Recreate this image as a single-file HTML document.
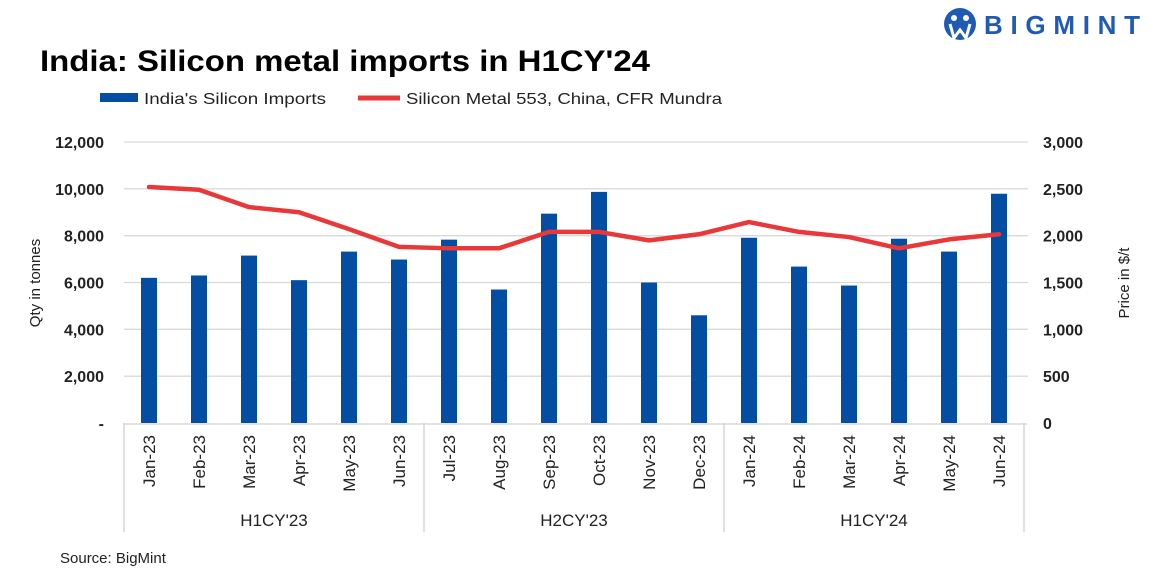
<!DOCTYPE html>
<html><head><meta charset="utf-8"><style>
body{margin:0;background:#fff;width:1153px;height:580px;overflow:hidden;font-family:"Liberation Sans",sans-serif}
svg text{font-family:"Liberation Sans",sans-serif}
</style></head><body>
<svg id="chart" width="1153" height="580">
<g>
<circle cx="960" cy="24" r="16" fill="#1f5bb5"/>
<circle cx="954" cy="18" r="3" fill="#fff"/><circle cx="966" cy="18" r="3" fill="#fff"/>
<path d="M950 24 L954 38 L960 30 L966 38 L970 24" stroke="#fff" stroke-width="3" fill="none"/>
<text x="984" y="34" font-size="26" font-weight="bold" fill="#1f5bb5" textLength="156" lengthAdjust="spacing">BIGMINT</text>
</g>
<text x="40" y="71" font-size="30" font-weight="bold" fill="#000" textLength="610" lengthAdjust="spacingAndGlyphs">India: Silicon metal imports in H1CY'24</text>
<g>
<rect x="100" y="93" width="38" height="9" fill="#034ea2"/>
<text x="144" y="104" font-size="16" fill="#222" textLength="182" lengthAdjust="spacingAndGlyphs">India's Silicon Imports</text>
<line x1="358" y1="98" x2="400" y2="98" stroke="#e8383a" stroke-width="5"/>
<text x="406" y="104" font-size="16" fill="#222" textLength="316" lengthAdjust="spacingAndGlyphs">Silicon Metal 553, China, CFR Mundra</text>
</g>
<g id="grid"></g><g id="bars"></g><g id="line"></g><g id="axes"></g>
<text transform="translate(40,283) rotate(-90)" text-anchor="middle" font-size="15" fill="#222">Qty in tonnes</text>
<text transform="translate(1129,283) rotate(-90)" text-anchor="middle" font-size="15" fill="#222">Price in $/t</text>
<text x="60" y="563" font-size="15" fill="#222">Source: BigMint</text>
</svg>
<script>
const categories=["Jan-23","Feb-23","Mar-23","Apr-23","May-23","Jun-23","Jul-23","Aug-23","Sep-23","Oct-23","Nov-23","Dec-23","Jan-24","Feb-24","Mar-24","Apr-24","May-24","Jun-24"];
const imports=[6200,6300,7150,6100,7320,6980,7830,5700,8940,9870,6000,4600,7910,6680,5870,7870,7320,9790];
const prices=[2520,2490,2305,2250,2070,1880,1865,1865,2040,2040,1950,2015,2145,2040,1985,1865,1960,2015];
const leftTicks=[0,2000,4000,6000,8000,10000,12000];
const leftTickLabels=["-","2,000","4,000","6,000","8,000","10,000","12,000"];
const rightTicks=[0,500,1000,1500,2000,2500,3000];
const rightTickLabels=["0","500","1,000","1,500","2,000","2,500","3,000"];
const groups=["H1CY'23","H2CY'23","H1CY'24"];
const groupSize=[6,6,6];
const NS="http://www.w3.org/2000/svg";
const X0=124,X1=1024,Y0=423,Y1=142;
const step=(X1-X0)/categories.length;
const xc=i=>X0+step*(i+0.5);
const yL=v=>Y0-(v/12000)*(Y0-Y1);
const yR=v=>Y0-(v/3000)*(Y0-Y1);
function mk(tag,attrs,parent,txt){const e=document.createElementNS(NS,tag);for(const k in attrs)e.setAttribute(k,attrs[k]);if(txt!==undefined)e.textContent=txt;document.getElementById(parent).appendChild(e);return e;}
leftTicks.forEach((t,i)=>{
 if(t>0){const g=mk('line',{x1:X0,x2:X1+4,y1:yL(t),y2:yL(t),stroke:'#d9d9d9','stroke-width':1.3},'grid');
 
 }
 const l=mk('text',{x:104,y:yL(t)+6,'text-anchor':'end','font-size':16,'font-weight':'bold',fill:'#222'},'axes',leftTickLabels[i]);
 
 
});
rightTicks.forEach((t,i)=>{
 const l=mk('text',{x:1043,y:yR(t)+6,'font-size':16,'font-weight':'bold',fill:'#222'},'axes',rightTickLabels[i]);
 
 
});
imports.forEach((v,i)=>{
 const b=mk('rect',{x:xc(i)-8,y:yL(v),width:16,height:Y0-yL(v),fill:'#034ea2'},'bars');
 
 
});
const pl=mk('polyline',{points:prices.map((p,i)=>xc(i)+','+yR(p)).join(' '),fill:'none',stroke:'#e8383a','stroke-width':4.5,'stroke-linejoin':'round','stroke-linecap':'round'},'line');


const ax=mk('line',{x1:X0,x2:X1+3,y1:Y0+1,y2:Y0+1,stroke:'#d0d0d0','stroke-width':1.3},'axes');


categories.forEach((c,i)=>{
 const t=mk('text',{transform:`translate(${xc(i)+6},435) rotate(-90)`,'text-anchor':'end','font-size':17,fill:'#222'},'axes',c);
 
 
});
let start=0;
[0].concat(groupSize.map((s,i)=>groupSize.slice(0,i+1).reduce((a,b)=>a+b,0))).forEach(k=>{
 const s=mk('line',{x1:X0+step*k,x2:X0+step*k,y1:Y0,y2:532,stroke:'#d0d0d0','stroke-width':1.3},'axes');
 
 
});
groups.forEach((g,i)=>{
 const mid=X0+step*(start+groupSize[i]/2);start+=groupSize[i];
 const t=mk('text',{x:mid,y:526,'text-anchor':'middle','font-size':17,fill:'#222'},'axes',g);
 
 
});
</script>
</body></html>
